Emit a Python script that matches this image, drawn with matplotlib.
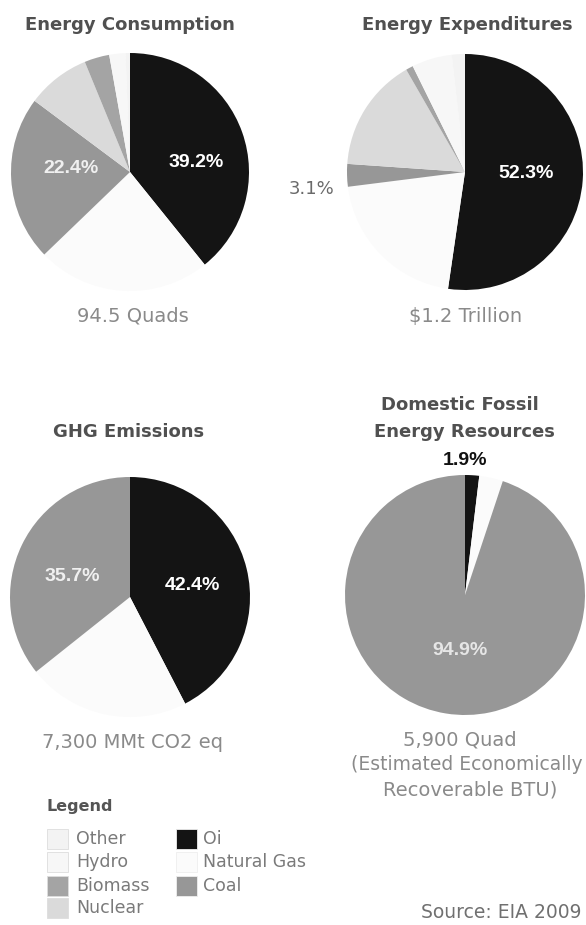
import matplotlib.pyplot as plt
from matplotlib.patches import Rectangle

W, H = 586, 925

# fuel order goes clockwise from 12 o'clock
fuels = ['Oil', 'Natural Gas', 'Coal', 'Nuclear', 'Biomass', 'Hydro', 'Other']
consumption = [39.2, 23.6, 22.4, 8.6, 3.4, 2.2, 0.6]
expenditures = [52.3, 20.7, 3.1, 15.6, 1.0, 5.5, 1.8]
ghg = [42.4, 21.9, 35.7, 0, 0, 0, 0]
resources = [1.9, 3.2, 94.9, 0, 0, 0, 0]

fuel_colors = {'Oil': '#141414', 'Natural Gas': '#fbfbfb', 'Coal': '#979797',
               'Nuclear': '#dadada', 'Biomass': '#a4a4a4', 'Hydro': '#f7f7f7',
               'Other': '#f3f3f3'}

legend_col1 = ['Other', 'Hydro', 'Biomass', 'Nuclear']
legend_col2 = ['Oil', 'Natural Gas', 'Coal']
legend_names = {'Oil': 'Oi'}   # scan lost the "l"

fig = plt.figure(figsize=(W / 100, H / 100), dpi=100)
fig.patch.set_facecolor('white')


def px_axes(cx, cy, r):
    return fig.add_axes([(cx - r) / W, 1 - (cy + r) / H, 2 * r / W, 2 * r / H])


def ftext(x, y, s, **kw):
    kw.setdefault('ha', 'center')
    kw.setdefault('va', 'center')
    fig.text(x / W, 1 - y / H, s, **kw)


def draw_pie(cx, cy, r, values):
    ax = px_axes(cx, cy, r)
    ax.pie(values, colors=[fuel_colors[f] for f in fuels], startangle=90,
           counterclock=False, radius=1,
           wedgeprops=dict(linewidth=0))
    ax.set_xlim(-1, 1)
    ax.set_ylim(-1, 1)
    ax.set_aspect('equal')
    ax.axis('off')
    return ax


def pct(v):
    return '%.1f%%' % v


title_kw = dict(fontsize=13, fontweight='bold', color='#505050', family='DejaVu Sans')
sub_kw = dict(fontsize=14, color='#8a8a8a', family='DejaVu Sans')
lab_kw = dict(fontsize=14, fontweight='bold', family='Liberation Sans', ha='center', va='center')

# Energy Consumption
ftext(130, 25, 'Energy Consumption', **title_kw)
ax1 = draw_pie(130, 172, 119, consumption)
ax1.text(0.56, 0.08, pct(consumption[0]), color='white', **lab_kw)
ax1.text(-0.5, 0.03, pct(consumption[2]), color='#f0f0f0', **lab_kw)
ftext(133, 316, '94.5 Quads', **sub_kw)

# Energy Expenditures
ftext(467, 25, 'Energy Expenditures', **title_kw)
ax2 = draw_pie(465, 172, 118, expenditures)
ax2.text(0.52, -0.01, pct(expenditures[0]), color='white', **lab_kw)
ax2.text(-1.3, -0.14, pct(expenditures[2]), color='#6a6a6a',
         fontsize=13, family='DejaVu Sans', ha='center', va='center')
ftext(466, 316, '$1.2 Trillion', **sub_kw)

# GHG Emissions
ftext(129, 432, 'GHG Emissions', **title_kw)
ax3 = draw_pie(130, 597, 120, ghg)
ax3.text(0.52, 0.1, pct(ghg[0]), color='white', **lab_kw)
ax3.text(-0.48, 0.17, pct(ghg[2]), color='#f0f0f0', **lab_kw)
ftext(133, 743, '7,300 MMt CO2 eq', **sub_kw)

# Domestic Fossil Energy Resources
ftext(460, 405, 'Domestic Fossil', **title_kw)
ftext(464, 432, 'Energy Resources', **title_kw)
ax4 = draw_pie(465, 595, 120, resources)
ax4.text(0.0, 1.12, pct(resources[0]), color='#111111', **lab_kw)
ax4.text(-0.04, -0.46, pct(resources[2]), color='#e6e6e6', **lab_kw)
ftext(460, 740, '5,900 Quad', **sub_kw)
ftext(467, 765, '(Estimated Economically', fontsize=13.5, color='#8a8a8a',
      family='DejaVu Sans')
ftext(470, 790, 'Recoverable BTU)', **sub_kw)

# legend
ftext(47, 807, 'Legend', ha='left', fontsize=11.5, fontweight='bold',
      color='#555555', family='DejaVu Sans')
lax = fig.add_axes([0, 0, 1, 1])
lax.set_xlim(0, W)
lax.set_ylim(H, 0)
lax.axis('off')
rows_y = [839, 862, 886, 908]
for name, y in zip(legend_col1, rows_y):
    lax.add_patch(Rectangle((47, y - 10), 21, 20, facecolor=fuel_colors[name],
                            edgecolor='#dddddd', linewidth=0.6))
    lax.text(76, y, legend_names.get(name, name), ha='left', va='center',
             fontsize=12.5, color='#7a7a7a', family='DejaVu Sans')
for name, y in zip(legend_col2, rows_y):
    lax.add_patch(Rectangle((176, y - 10), 21, 20, facecolor=fuel_colors[name],
                            edgecolor='#eeeeee', linewidth=0.6))
    lax.text(203, y, legend_names.get(name, name), ha='left', va='center',
             fontsize=12.5, color='#7a7a7a', family='DejaVu Sans')

ftext(421, 912, 'Source: EIA 2009', ha='left', fontsize=13.5, color='#707070',
      family='DejaVu Sans')

fig.savefig('out.png', dpi=100, facecolor='white')
